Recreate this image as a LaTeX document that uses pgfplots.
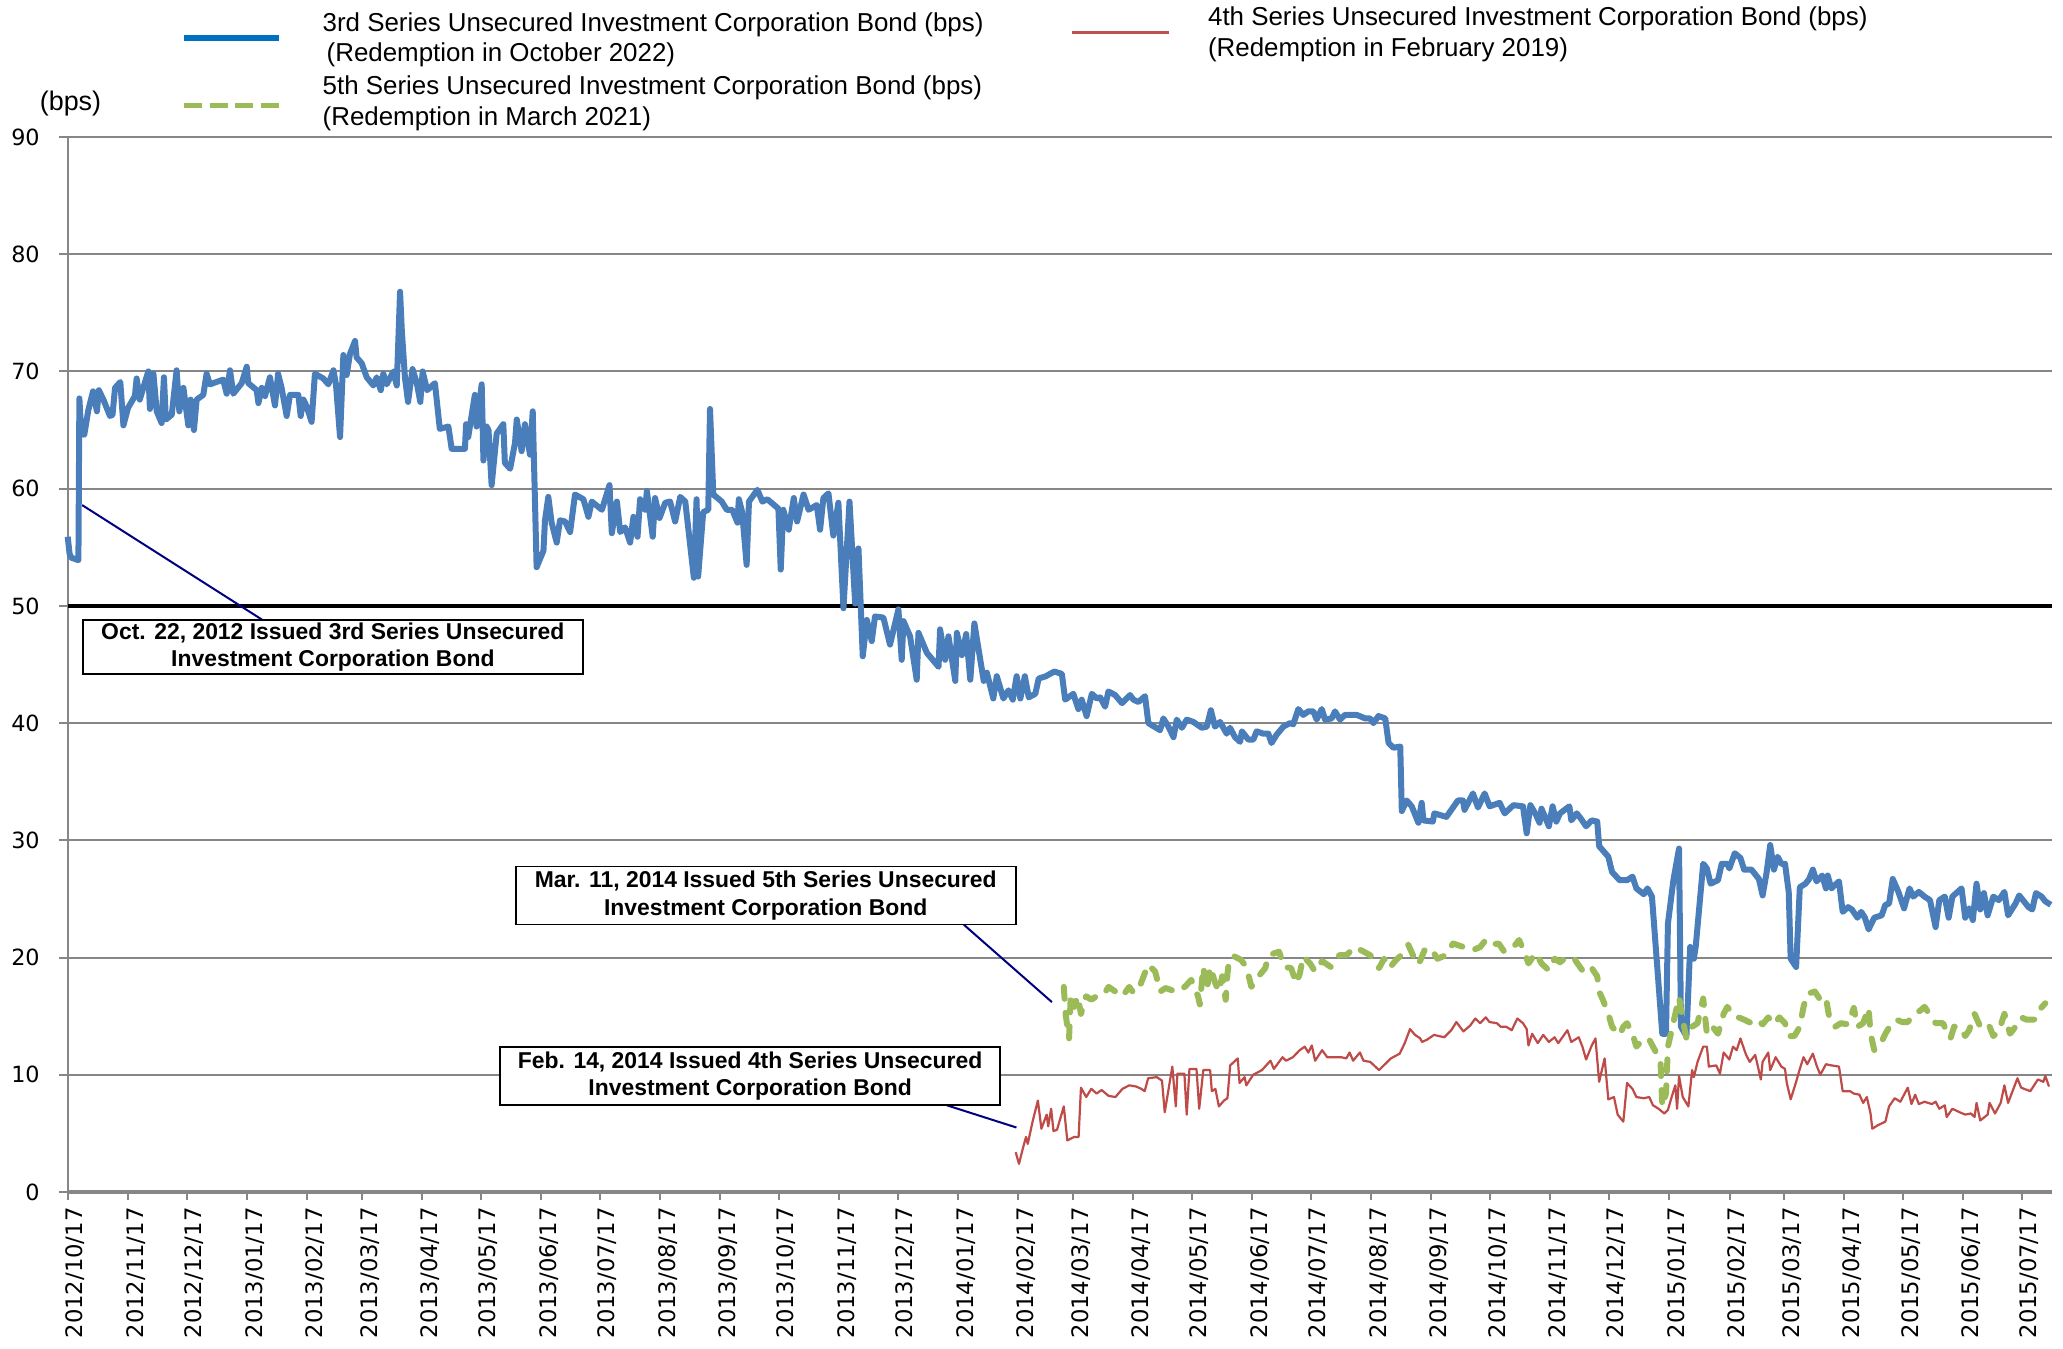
\documentclass[border=0pt]{standalone}
\usepackage{fontspec}
\setmainfont{Liberation Sans}
\newfontfamily\dejavu{DejaVu Sans}
\usepackage{pgfplots}
\pgfplotsset{compat=1.18}
\definecolor{cblue}{RGB}{74,126,187}
\definecolor{clegblue}{RGB}{0,112,192}
\definecolor{cgreen}{RGB}{155,187,89}
\definecolor{cred}{RGB}{190,75,72}
\definecolor{clegred}{RGB}{192,80,77}
\definecolor{cgrid}{RGB}{134,134,134}
\definecolor{cnavy}{RGB}{0,0,128}
\begin{document}
\begin{tikzpicture}
\useasboundingbox (-33.85bp,-78.5bp) rectangle (997.65bp,596bp);
\begin{axis}[
  at={(0,0)}, anchor=south west, scale only axis,
  width=992.2bp, height=527.5bp,
  xmin=0, xmax=1018.6, ymin=0, ymax=90,
  axis x line*=bottom, axis y line*=left,
  axis line style={cgrid, line width=1bp},
  x axis line style={line width=1.6bp},
  ytick={0,10,20,30,40,50,60,70,80,90},
  ymajorgrids, grid style={cgrid, line width=1bp},
  xtick={0,31,61,92,123,151,182,212,243,273,304,335,365,396,426,457,488,516,547,577,608,638,669,700,730,761,791,822,853,881,912,942,973,1003},
  xticklabels={2012/10/17,2012/11/17,2012/12/17,2013/01/17,2013/02/17,2013/03/17,2013/04/17,2013/05/17,2013/06/17,2013/07/17,2013/08/17,2013/09/17,2013/10/17,2013/11/17,2013/12/17,2014/01/17,2014/02/17,2014/03/17,2014/04/17,2014/05/17,2014/06/17,2014/07/17,2014/08/17,2014/09/17,2014/10/17,2014/11/17,2014/12/17,2015/01/17,2015/02/17,2015/03/17,2015/04/17,2015/05/17,2015/06/17,2015/07/17},
  x tick label style={rotate=90, anchor=east, yshift=-3.9bp, font=\dejavu\fontsize{11.4}{12}\selectfont},
  y tick label style={xshift=-6.3bp, font=\dejavu\fontsize{11.2}{13}\selectfont},
  /pgf/number format/assume math mode=true,
  tick align=outside, major tick length=4.2bp,
  tick style={cgrid, line width=1bp},
  clip=false,
]
% 50 bps reference line
\addplot[black, line width=2bp, forget plot] coordinates {(0,50) (1018.6,50)};
% 3rd series
\addplot[cblue, line width=3bp, line join=round] coordinates {
(0,55.9) (1,54.4) (2,54.1) (5.5,53.9) (6,67.7) (7,64.7) (8.5,64.6) (10.6,66.7) (13,68.3) (15,66.6) (16,68.4) (18.3,67.6) (21.7,66.2) (23,66.3) (24.3,68.6) (27,69.1) (28.6,65.4) (31,66.9) (34.5,67.9) (35.4,69.4) (37,67.6) (39.7,69.1) (41.4,70.0) (42.2,66.8) (44,69.8) (45.7,66.6) (48.2,65.6) (49.4,69.5) (50.4,65.9) (53.4,66.3) (55.9,70.1) (57.3,66.6) (59.4,68.6) (61.9,65.4) (63.1,67.6) (64.8,65.0) (66.2,67.6) (69.6,68.0) (71.3,69.8) (73,68.9) (79.8,69.3) (81.6,68.1) (83.3,70.1) (85,68.1) (89.3,69.0) (91.9,70.4) (92.7,69.0) (97,68.4) (97.9,67.3) (99.6,68.6) (101.3,67.9) (103.8,69.5) (106.4,67.1) (108,69.8) (109.8,68.6) (112.4,66.2) (114.1,68.0) (118.4,68.0) (119.6,66.2) (121,67.6) (122.7,67.0) (125.2,65.7) (126.9,69.8) (131.2,69.4) (133.8,68.9) (136.4,70.1) (137.7,68.9) (139.8,64.4) (141.5,71.4) (143.2,69.7) (144.9,71.5) (147.5,72.6) (148.3,71.2) (150.9,70.7) (153.5,69.5) (156.9,68.8) (158.6,69.5) (160.7,68.4) (162,69.8) (163.7,68.9) (167.2,70.0) (168.9,68.8) (170.6,76.8) (171.5,73.5) (173.1,69.5) (174.7,67.4) (177,70.2) (179.2,69.0) (181,67.4) (182.2,70.0) (184.5,68.4) (188.5,69.0) (191,65.1) (195.4,65.3) (197.1,63.4) (203.9,63.4) (204.5,65.5) (205.6,64.4) (209,68.0) (209.9,65.3) (212.5,68.9) (213.4,62.4) (215,65.3) (216,65.0) (217.6,60.3) (220.2,64.7) (223.6,65.5) (224.4,62.2) (227.1,61.7) (229.6,63.9) (230.5,65.9) (233,63.2) (234.7,65.5) (237.3,62.9) (238.7,66.6) (240.7,53.3) (244.2,54.7) (245,57.3) (246.7,59.3) (248.4,57.1) (251,55.4) (252.7,57.3) (255.3,57.2) (257.9,56.3) (260.4,59.5)
(264.7,59.1) (267.3,57.6) (269,58.9) (274.2,58.2) (278.1,60.3) (279.3,56.2) (281.9,58.9) (283.6,56.3) (286.1,56.7) (288.7,55.4) (290.4,57.6) (292.5,55.9) (293.8,59.1) (296.4,58.2) (297.3,59.8) (300.3,55.9) (301.5,59.2) (303.8,57.5) (306.7,58.8) (309.2,58.9) (311.8,57.2) (314.4,59.3) (317,58.9) (321.4,52.4) (322.8,59.1) (323.6,52.5) (326.2,58.0) (328.8,58.2) (329.7,66.8) (331.4,59.5) (335.7,58.9) (338.3,58.2) (341.1,58.2) (343.8,57.1) (344.5,59.1) (346.2,58.0) (348.5,53.5) (349.7,58.9) (354,59.9) (356.6,58.9) (359.1,59.1) (364.8,58.3) (366,53.1) (367.3,58.2) (370.1,56.5) (372.7,59.2) (374.4,57.2) (377.7,59.5) (380.3,58.2) (384.5,58.6) (386.2,56.5) (387.9,59.2) (390.5,59.6) (393,56.0) (395.6,58.8) (398.2,49.8) (401.3,58.9) (404.2,50.2) (405.9,54.9) (408.1,45.7) (410.2,48.8) (412.7,47.0) (414.4,49.1) (418.7,49.0) (422.1,46.7) (426.4,49.7) (428.1,45.4) (429,48.7) (432.4,47.4) (435.8,43.7) (436.7,47.7) (441,46.0) (447,44.8) (447.8,48.0) (450.4,45.4) (452.1,47.4) (455.6,43.6) (456.4,47.7) (459,45.8) (461.2,47.6) (463.3,43.7) (465.4,48.5) (470.2,43.6) (471.8,44.3) (475.1,42.1) (476.9,44.0) (480.3,42.1) (482.9,42.8) (485.1,42.0) (487.1,44.0) (489,42.1) (491.3,44.0) (493.3,42.2) (496.7,42.5) (498.4,43.8) (502.1,44.0) (506.4,44.4)
(510.3,44.2) (512,42.0) (516.2,42.5) (518.8,41.2) (520.5,42.0) (523,40.6) (525.7,42.5) (528.3,42.1) (530,42.2) (532.5,41.4) (534.2,42.7) (537.6,42.4) (541.2,41.7) (545.3,42.4) (547,42.0) (549.6,41.8) (553,42.3) (554.7,40.0) (560.7,39.4) (562.4,40.4) (565,39.7) (567.6,38.8) (569.3,40.3) (571.9,39.6) (574.4,40.3) (577.8,40.1) (582.1,39.6) (584.7,39.7) (586.8,41.1) (588.9,39.7) (591.5,40.1) (594.9,39.1) (596.6,39.6) (599.2,38.8) (601.8,38.4) (602.7,39.3) (606,38.6) (608.6,38.6) (610.3,39.3) (613.7,39.1) (616.3,39.1) (617.9,38.3) (620.5,39.0) (624,39.7) (627.4,40.0) (629.1,39.9) (631.7,41.2) (634.2,40.7) (636.8,41.0) (639.4,41.0) (641.1,40.3) (643.7,41.2) (645.4,40.3) (648.8,40.4) (650.5,41.0) (653.1,40.3) (655.6,40.7) (659.1,40.7) (661.7,40.7) (666,40.4) (668.5,40.4) (670.2,40.0) (672.8,40.6) (676.3,40.4) (678,38.3) (680.5,37.9) (684,38.0) (684.8,32.5) (687.3,33.4) (689.9,32.9) (693.3,31.5) (695,33.2) (695.9,31.7) (700.7,31.6) (701.5,32.3) (707.7,32.0) (713.6,33.4) (716.2,33.4) (717,32.6) (721.3,34.0) (723.9,32.8) (727.3,34.0) (729.9,32.9) (735,33.2) (737.6,32.3) (742.1,33.0)
(747,32.9) (748.9,30.6) (750.8,33.0) (753.6,32.2) (755.5,31.5) (756.5,32.7) (760.3,31.2) (762.2,32.9) (764.1,31.6) (766,32.3) (770.8,32.9) (771.8,31.7) (774.6,32.3) (776.5,31.9) (779.4,31.2) (782.3,31.7) (785.1,31.6) (786.1,29.5) (790.8,28.6) (792.7,27.3) (796.6,26.6) (800.4,26.6) (803.2,26.9) (805.2,25.9) (809,25.4) (810.9,25.9) (813.2,25.2) (818.5,13.5) (820.4,13.5) (821.4,22.9) (824.2,26.6) (827.1,29.3) (828.1,14.1) (830.9,13.3) (832.8,20.9) (834.7,19.9) (835.7,21.0) (839.5,28.0) (841.4,27.6) (843.3,26.3) (847.1,26.6) (849,28.0) (851.9,28.0) (852.9,27.6) (855.7,28.9) (858.6,28.5) (860.5,27.5) (864.3,27.5) (868.1,26.7) (870,25.3) (872,27.2) (873.9,29.6) (875.8,27.5) (877.7,28.6) (879.6,28.0) (881.5,28.0) (883.4,25.6) (884.4,19.9) (887.2,19.2) (889.1,26.0) (892,26.3) (893.9,26.7) (895.8,27.5) (897.7,26.5) (900.6,27.0) (902.5,25.9) (903.4,27.0) (905.3,25.9) (909.2,26.5) (911.1,23.9) (913.9,24.3) (915.8,24.1) (918.7,23.4) (920.6,23.9) (922.5,23.4) (924.4,22.4) (927.3,23.4) (931.1,23.6) (933,24.5) (934.9,24.6) (936.8,26.7) (939.7,25.6) (942.6,24.2) (945.4,25.9) (947.3,25.2) (950.2,25.6) (953.1,25.2) (955.9,24.9) (958.8,22.6) (960.7,24.9) (963.5,25.2) (965.5,23.4) (967.4,25.2) (972.1,25.9) (974,23.4) (976,24.2) (977.9,23.2) (979.8,26.3) (981.7,24.1) (983.6,25.5) (985.5,23.6) (988.4,25.2) (991.2,24.9) (994.1,25.6) (996,23.6) (999.8,24.6) (1001.7,25.3) (1006.5,24.3) (1008.4,24.1) (1010.3,25.5) (1013.2,25.2) (1015.1,24.8) (1017.9,24.5)
};
% 5th series
\addplot[cgreen, line width=3bp, line cap=round, line join=round, dash pattern=on 6bp off 7bp] coordinates {
(511.3,17.5) (512.2,15.2) (514,13.1) (514.9,16.9) (516.6,15.8) (518.4,16.7) (520.1,15.2) (522.8,16.7) (525.4,16.4) (528.1,16.7) (531.6,16.8) (534.3,17.5) (537.8,17.1) (541.4,16.7) (544.9,17.5) (546.6,17.1) (549.3,17.1) (551.1,17.9) (554.6,19.4) (558.2,18.8) (560.8,17.1) (563.5,17.4) (567,17.2) (570.5,17.1) (574,17.6) (576.7,18.1) (580.2,16.7) (581.1,16.0) (582.9,19.2) (584.7,17.2) (586.4,19.2) (589.1,17.8) (590.9,17.1) (592.6,18.4) (594.4,16.4) (595.3,18.6) (596.2,19.9) (598.8,20.1) (602.3,19.8) (605,19.2) (607.6,17.5) (610.3,18.2) (614.7,19.1) (616.5,20.2) (618.2,20.3) (621.8,20.5) (624.4,19.2) (628,19.1) (630.6,17.8) (632.4,18.6) (634.2,20.1) (637.7,19.5) (640.3,18.8) (643.9,19.7) (648.3,19.2) (652.7,20.2) (656.3,20.2) (660.7,20.9) (664.2,20.6) (668.6,20.2) (673.1,19.1) (675.7,19.9) (678.4,19.1) (681.9,19.8) (684.5,20.2) (688.1,21.1) (690.8,20.1) (693.4,19.4) (696.9,20.8) (700.4,20.6) (703.1,19.9) (707.5,20.2) (711.1,21.2) (716.4,20.9) (720.8,20.6)
(725,20.9) (727.9,21.5) (730.7,21.1) (734.5,21.2) (737.4,20.5) (739.3,20.8) (743.1,21.1) (745,21.5) (747.9,20.4) (749.8,19.5) (753.6,20.4) (756.5,19.5) (760.3,18.9) (763.2,19.9) (766,19.6) (769.8,20.1) (773.7,19.8) (777.5,18.9) (780.3,18.7) (782.3,19.1) (785.1,18.4) (786.1,17.1) (788,16.4) (790.8,15.2) (792.7,14.1) (796.6,13.4) (798.5,14.1) (800.4,14.4) (803.2,13.5) (805.2,12.4) (809,13.1) (811.8,13.0) (814.7,12.1) (817.6,11.1) (818.5,7.3) (820.4,8.4) (821.4,12.4) (823.3,13.8) (825.2,15.2) (827.1,16.6) (829,14.7) (830.9,13.1) (833.8,14.1) (836.6,14.4) (839.5,16.5) (841.4,13.5) (844.3,14.1) (847.1,13.5) (850,15.2) (851.9,15.8) (854.8,15.1) (857.6,14.9) (860.5,14.7) (864.3,14.4) (867.2,14.7) (870,14.3) (872.9,14.9) (875.8,14.3) (878.6,14.9) (881.5,14.4) (883.4,13.3) (886.3,13.3) (889.1,14.1) (891,15.8) (892.9,16.9) (896.8,17.1) (899.6,16.4) (902.5,16.6) (904.4,14.7) (907.3,14.1) (910.1,14.4) (913.9,14.3) (916.8,15.7) (918.7,14.1) (921.6,14.4) (924.4,15.7) (925.4,13.5) (927.3,12.1) (930.2,12.5) (933,13.5) (935.9,14.3) (938.8,14.7) (941.6,14.5) (944.5,14.5) (947.3,15.1) (951.1,15.5) (953.1,15.8) (955.9,15.1) (958.8,14.4) (962.6,14.4) (964.5,13.7) (966.4,13.1) (968.3,14.1) (971.2,14.1) (974,13.3) (976,13.8) (978.8,15.2) (981.7,14.1) (983.6,13.8) (986.5,14.1) (988.4,13.3) (991.2,13.7) (994.1,15.2) (997,13.5) (999.8,14.1) (1002.7,14.9) (1005.5,14.7) (1009.4,14.7) (1011.3,15.4) (1015.1,16.1)
};
% 4th series
\addplot[cred, line width=1.1bp, line join=round] coordinates {
(486.6,3.4) (488.3,2.4) (490.1,3.6) (491.9,4.7) (492.8,4.1) (495.4,6.1) (498,7.8) (499.8,5.4) (502.5,6.6) (503.3,5.6) (504.8,7.1) (506,5.2) (507.8,5.3) (511.3,7.3) (513.1,4.4) (516.6,4.7) (518.9,4.7) (520.1,8.9) (522.8,8.1) (525.4,8.8) (528.1,8.4) (530.7,8.7) (534.3,8.2) (537.8,8.1) (541.4,8.8) (544.9,9.1) (548.4,9.0) (551.1,8.8) (552.8,8.6) (554.6,9.7) (559,9.8) (561.7,9.5) (563.1,6.8) (567,10.7) (568.8,7.3) (569.6,10.1) (573.2,10.1) (574.4,6.6) (575.8,10.5) (579.4,10.5) (580.8,7.1) (582.9,10.4) (586.4,10.4) (587.3,8.6) (589.1,8.8) (590.9,7.3) (593.5,7.8) (595.3,8.0) (596.7,10.8) (600.6,11.4) (601.5,9.3) (604.1,9.8) (605,9.1) (608.5,10.0) (613,10.4) (617.4,11.2) (619.1,10.5) (623.6,11.5) (625.3,11.2) (628.9,11.5) (632.4,12.1) (635,12.4) (636.8,11.9) (638.6,12.5) (640.3,11.2) (643.9,12.1) (646.5,11.5) (650,11.5) (653.6,11.5) (656.3,11.4) (658,11.9) (659.8,11.2) (663.3,11.9) (665.1,11.2) (668.6,11.1) (673.1,10.4) (679.2,11.4) (683.7,11.8) (686.3,12.7) (689,13.9) (691.6,13.4) (694.3,13.1) (695.2,12.8) (697.8,13.0) (701.3,13.4) (706.6,13.2) (710.2,13.8) (712.8,14.5) (716.4,13.7) (719.9,14.2) (722.5,14.8)
(725,14.4) (727.9,14.9) (729.8,14.5) (733.6,14.4) (735.5,14.1) (738.4,14.1) (741.2,13.8) (744.1,14.8) (747,14.4) (748.9,13.9) (749.8,12.5) (751.7,13.5) (754.6,12.7) (757.4,13.4) (760.3,12.8) (763.2,13.2) (765.1,12.7) (769.8,13.8) (771.8,12.8) (775.6,13.2) (777.5,12.4) (779.4,11.3) (782.3,12.5) (784.2,13.1) (786.1,9.4) (788.9,11.4) (790.8,7.9) (793.7,8.1) (795.6,6.6) (798.5,6.0) (800.4,9.3) (803.2,8.8) (805.2,8.1) (809,8.0) (811.8,8.1) (813.7,7.4) (816.6,7.1) (819.5,6.7) (821.4,7.0) (823.3,8.1) (825.2,9.1) (826.1,7.1) (827.1,9.9) (829,8.1) (831.9,7.3) (833.8,10.4) (834.7,9.8) (836.6,11.1) (839.5,12.4) (841.4,12.4) (842.4,10.7) (846.2,10.8) (848.1,10.1) (850,11.9) (852.9,11.3) (854.8,12.4) (856.7,12.1) (858.6,13.1) (861.5,11.7) (863.4,11.1) (866.2,11.7) (869.1,9.6) (870,11.1) (872.9,11.9) (873.9,10.4) (876.7,11.5) (879.6,10.7) (881.5,10.5) (882.4,9.3) (884.4,7.9) (887.2,9.4) (889.1,10.5) (891,11.5) (892.9,10.9) (895.8,11.8) (897.7,10.8) (899.6,10.0) (902.5,10.9) (905.3,10.8) (909.2,10.7) (911.1,8.6) (914.9,8.6) (916.8,8.4) (919.7,8.3) (921.6,7.6) (923.5,8.1) (925.4,6.7) (926.3,5.4) (929.2,5.7) (933,6.0) (934.9,7.3) (937.8,8.0) (940.7,7.7) (944.5,8.9) (946.4,7.5) (948.3,8.3) (950.2,7.5) (953.1,7.7) (956.9,7.5) (958.8,7.7) (960.7,7.1) (963.5,7.4) (964.5,6.4) (967.4,7.1) (971.2,6.8) (974,6.6) (976.9,6.7) (978.8,6.4) (979.8,7.6) (981.7,6.1) (985.5,6.6) (986.5,7.6) (989.3,6.7) (992.2,7.6) (994.1,9.1) (996,7.6) (1000.8,9.7) (1002.7,8.9) (1007.4,8.6) (1011.3,9.6) (1014.1,9.4) (1015.1,9.9) (1017,9.0)
};
% annotations
\draw[cnavy, line width=1bp] (axis cs:7.4,58.6) -- (axis cs:100,48.8);
\draw[cnavy, line width=1bp] (axis cs:460,22.8) -- (axis cs:505.2,16.2);
\draw[cnavy, line width=1bp] (axis cs:451.2,7.4) -- (axis cs:487,5.5);
\tikzset{annot/.style={draw=black, line width=0.8bp, fill=white, inner sep=0pt, minimum width=250bp, align=center, font=\bfseries\fontsize{11.5}{13.8}\selectfont}}
\node[annot, minimum height=27bp] at (axis cs:136.1,46.5) {Oct. 22, 2012 Issued 3rd Series Unsecured\\Investment Corporation Bond};
\node[annot, minimum height=29bp] at (axis cs:358.3,25.3) {Mar. 11, 2014 Issued 5th Series Unsecured\\Investment Corporation Bond};
\node[annot, minimum height=29bp] at (axis cs:350.3,9.9) {Feb. 14, 2014 Issued 4th Series Unsecured\\Investment Corporation Bond};
\node[anchor=base west, inner sep=0pt, font=\fontsize{13.5}{15}\selectfont] at (axis cs:-14.5,92.3) {(bps)};
\end{axis}
% legend
\begin{scope}[every node/.style={anchor=base west, inner sep=0pt, font=\fontsize{13}{15}\selectfont}]
\draw[clegblue, line width=2.8bp] (58.2bp,577bp) -- (105.6bp,577bp);
\node at (127.3bp,580.3bp) {3rd Series Unsecured Investment Corporation Bond (bps)};
\node at (129.3bp,565.2bp) {(Redemption in October 2022)};
\draw[cgreen, line width=2.5bp, dash pattern=on 9bp off 3.8bp] (58.2bp,543.4bp) -- (105.6bp,543.4bp);
\node at (127.3bp,548.75bp) {5th Series Unsecured Investment Corporation Bond (bps)};
\node at (127.3bp,533bp) {(Redemption in March 2021)};
\draw[clegred, line width=1.5bp] (502.3bp,579.6bp) -- (550.4bp,579.6bp);
\node at (570bp,583bp) {4th Series Unsecured Investment Corporation Bond (bps)};
\node at (570bp,567.8bp) {(Redemption in February 2019)};
\end{scope}
\end{tikzpicture}
\end{document}
